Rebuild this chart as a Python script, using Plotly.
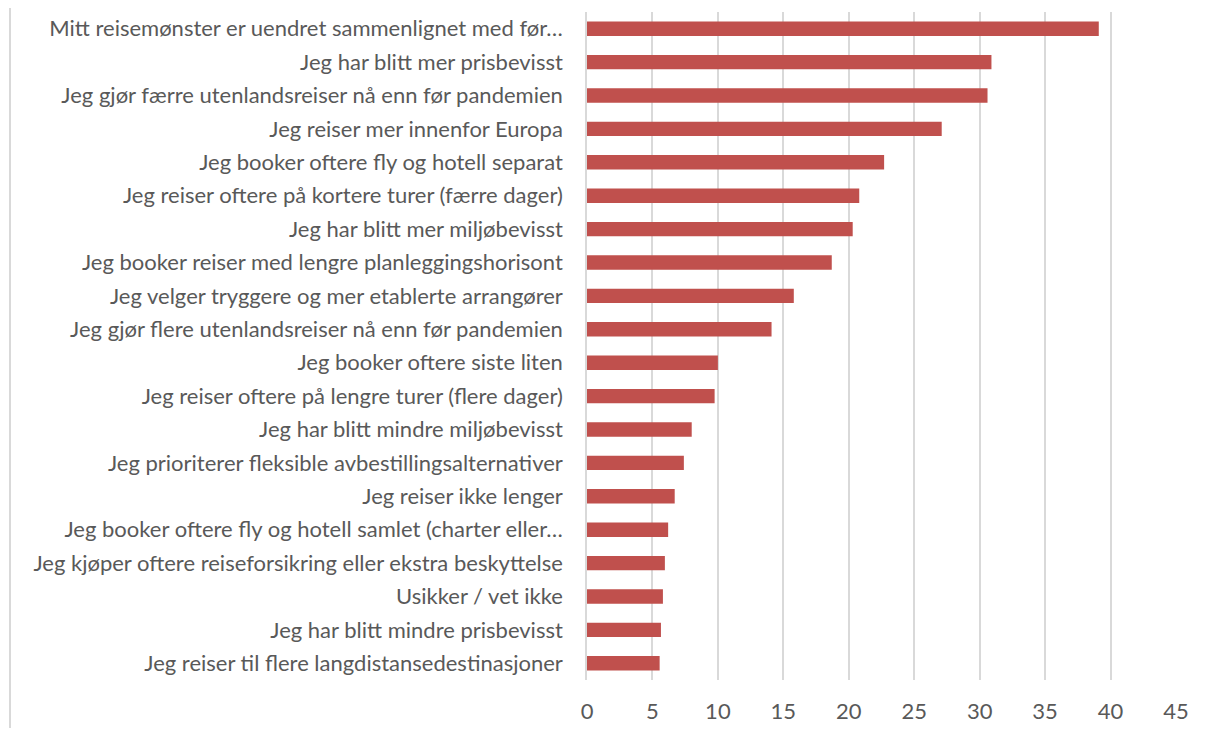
import plotly.graph_objects as go

categories = [
    "Mitt reisemønster er uendret sammenlignet med før…",
    "Jeg har blitt mer prisbevisst",
    "Jeg gjør færre utenlandsreiser nå enn før pandemien",
    "Jeg reiser mer innenfor Europa",
    "Jeg booker oftere fly og hotell separat",
    "Jeg reiser oftere på kortere turer (færre dager)",
    "Jeg har blitt mer miljøbevisst",
    "Jeg booker reiser med lengre planleggingshorisont",
    "Jeg velger tryggere og mer etablerte arrangører",
    "Jeg gjør flere utenlandsreiser nå enn før pandemien",
    "Jeg booker oftere siste liten",
    "Jeg reiser oftere på lengre turer (flere dager)",
    "Jeg har blitt mindre miljøbevisst",
    "Jeg prioriterer fleksible avbestillingsalternativer",
    "Jeg reiser ikke lenger",
    "Jeg booker oftere fly og hotell samlet (charter eller…",
    "Jeg kjøper oftere reiseforsikring eller ekstra beskyttelse",
    "Usikker / vet ikke",
    "Jeg har blitt mindre prisbevisst",
    "Jeg reiser til flere langdistansedestinasjoner",
]
values = [39.1, 30.9, 30.6, 27.1, 22.7, 20.8, 20.3, 18.7, 15.8, 14.1,
          10.0, 9.75, 8.0, 7.4, 6.7, 6.2, 5.95, 5.8, 5.65, 5.55]
x_ticks = [0, 5, 10, 15, 20, 25, 30, 35, 40, 45]

# page has an 8px body margin, so the figure is sized to fit inside it
W, H = 1190, 720
L, R, T, B = 578.5, 22, 4, 48
PW = W - L - R

fig = go.Figure(go.Bar(
    y=categories, x=values, orientation="h",
    marker=dict(color="#C0504D", line=dict(width=0)),
))
fig.update_layout(
    width=W, height=H,
    margin=dict(l=L, r=R, t=T, b=B, autoexpand=False),
    paper_bgcolor="white", plot_bgcolor="white",
    bargap=0.57, showlegend=False,
    font=dict(family="Lato, 'Open Sans', sans-serif", size=22, color="#595959"),
    xaxis=dict(range=[0, 45], tickvals=x_ticks, showgrid=True,
               gridcolor="#d9d9d9", gridwidth=1.5, zeroline=False,
               showline=False, ticks="", ticklabelstandoff=16,
               tickfont=dict(size=22)),
    yaxis=dict(autorange="reversed", showgrid=False, zeroline=False,
               showline=True, linecolor="#d9d9d9", linewidth=1.5,
               ticks="", ticklabelstandoff=18, tickfont=dict(size=22)),
    shapes=[dict(type="line", xref="paper", yref="paper",
                 x0=(1 - L) / PW, x1=(1 - L) / PW, y0=-1, y1=2,
                 line=dict(color="#d9d9d9", width=2))],
)
fig.write_html("out.html")
